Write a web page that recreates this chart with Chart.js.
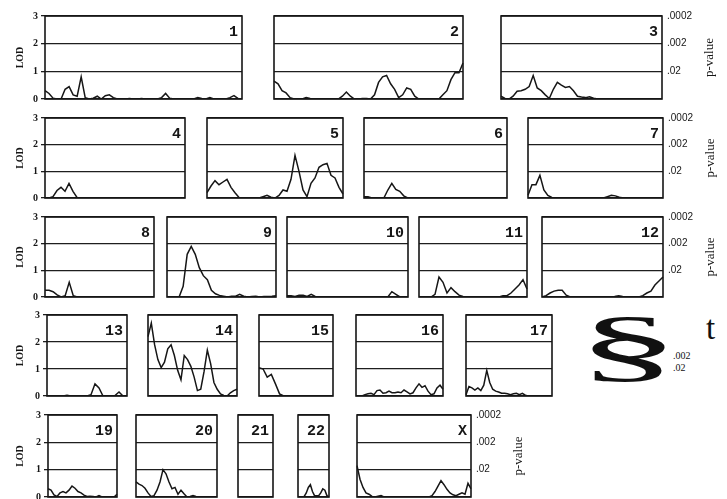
<!DOCTYPE html>
<html>
<head>
<meta charset="utf-8">
<script src="https://cdn.jsdelivr.net/npm/chart.js@4"></script>
<style>
    body { margin: 0; background: #fff; width: 727px; height: 499px; overflow: hidden; position: relative; }
    canvas { position: absolute; }
    .txt { position: absolute; font-family: "Liberation Serif", serif; color: #111; white-space: nowrap; }
</style>
</head>
<body>
<div class="txt" id="sect" style="left:576px;top:305px;font-size:80px;line-height:80px;transform:scaleX(2.6);transform-origin:0 0;">§</div>
<div class="txt" style="left:673px;top:350px;font-size:10px;">.002</div>
<div class="txt" style="left:673px;top:362px;font-size:10px;">.02</div>
<div class="txt" style="left:706px;top:311px;font-size:33px;line-height:34px;">t</div>
<script>
// LOD scores along each chromosome, evenly spaced samples
const lod1 = [0.3, 0.2, 0.03, 0, 0, 0.35, 0.45, 0.15, 0.1, 0.8, 0.05, 0, 0.03, 0.1, 0, 0.12, 0.15, 0.05, 0,
    0, 0, 0.02, 0, 0, 0.02, 0, 0, 0, 0, 0.05, 0.2, 0.03, 0, 0, 0, 0, 0, 0, 0.05, 0.02, 0, 0.05, 0, 0, 0, 0, 0.05, 0.12, 0.02, 0];
const lod2 = [0.65, 0.55, 0.3, 0.22, 0.05, 0, 0, 0, 0.05, 0.02, 0, 0, 0, 0, 0, 0, 0,
    0.1, 0.25, 0.1, 0, 0, 0.02, 0.02, 0, 0.15, 0.6, 0.8, 0.85, 0.55, 0.35, 0.05,
    0.15, 0.4, 0.35, 0.1, 0, 0, 0, 0, 0, 0, 0.15, 0.3, 0.7, 0.95, 0.95, 1.3];
const lod3 = [0.1, 0.02, 0, 0.1, 0.28, 0.3, 0.35, 0.45, 0.85, 0.4, 0.3, 0.15, 0.02, 0.35, 0.6, 0.5, 0.42, 0.45, 0.3, 0.1,
    0.07, 0.05, 0.08, 0.03, 0, 0, 0, 0, 0, 0, 0, 0, 0, 0, 0, 0, 0, 0, 0, 0, 0];
const lod4 = [0, 0, 0.05, 0.28, 0.4, 0.25, 0.55, 0.25, 0.02, 0, 0, 0, 0, 0, 0, 0, 0, 0,
    0, 0, 0, 0, 0, 0, 0, 0, 0, 0, 0, 0, 0, 0, 0, 0, 0, 0];
const lod5 = [0.2, 0.45, 0.65, 0.5, 0.6, 0.7, 0.4, 0.2, 0.02, 0, 0, 0, 0, 0, 0.05, 0.1, 0.03, 0,
    0.1, 0.3, 0.25, 0.7, 1.6, 1.0, 0.3, 0.05, 0.55, 0.75, 1.15, 1.25, 1.3, 0.85, 0.75, 0.4, 0.15];
const lod6 = [0.05, 0.05, 0, 0, 0, 0, 0.3, 0.55, 0.32, 0.25, 0.08, 0, 0, 0, 0, 0, 0, 0, 0,
    0, 0, 0, 0, 0, 0, 0, 0, 0, 0, 0, 0, 0, 0, 0, 0, 0, 0];
const lod7 = [0.1, 0.5, 0.5, 0.85, 0.3, 0.1, 0.02, 0, 0, 0, 0, 0, 0, 0, 0, 0, 0, 0, 0, 0,
    0.05, 0.1, 0.08, 0.03, 0, 0, 0, 0, 0, 0, 0, 0, 0, 0, 0];
const lod8 = [0.25, 0.25, 0.2, 0.08, 0, 0.05, 0.55, 0.05, 0, 0, 0, 0, 0, 0,
    0, 0, 0, 0, 0, 0, 0, 0, 0, 0, 0, 0, 0, 0];
const lod9 = [0, 0, 0, 0, 0.4, 1.6, 1.9, 1.6, 1.1, 0.8, 0.65, 0.25, 0.12, 0.06,
    0.03, 0, 0.03, 0.03, 0.1, 0.03, 0, 0.02, 0.03, 0, 0.02, 0.02, 0.03, 0.05];
const lod10 = [0.05, 0.05, 0.02, 0.07, 0.07, 0.02, 0.1, 0.02, 0, 0, 0, 0, 0, 0, 0, 0,
    0, 0, 0, 0, 0, 0, 0, 0, 0, 0, 0.2, 0.1, 0, 0, 0];
const lod11 = [0, 0, 0, 0, 0.1, 0.75, 0.55, 0.15, 0.35, 0.2, 0.07, 0.02, 0, 0,
    0, 0, 0, 0, 0, 0, 0, 0.05, 0.05, 0.15, 0.3, 0.45, 0.65, 0.3];
const lod12 = [0, 0.05, 0.15, 0.22, 0.25, 0.25, 0.07, 0, 0, 0, 0, 0, 0, 0, 0, 0,
    0, 0, 0.02, 0.05, 0.02, 0, 0, 0, 0, 0.05, 0.15, 0.22, 0.45, 0.6, 0.75];
const lod13 = [0, 0, 0, 0, 0, 0.03, 0, 0, 0, 0, 0, 0.05, 0.45, 0.3, 0, 0, 0, 0.02, 0.15, 0, 0];
const lod14 = [2.2, 2.7, 1.9, 1.35, 1.05, 1.25, 1.75, 1.9, 1.5, 0.95, 0.6, 1.5, 1.35, 1.1,
    0.7, 0.2, 0.25, 0.9, 1.7, 1.2, 0.5, 0.25, 0.08, 0.02, 0, 0.12, 0.2, 0.25];
const lod15 = [1.05, 1.0, 0.7, 0.8, 0.45, 0.08, 0, 0, 0, 0, 0, 0, 0, 0, 0, 0, 0, 0, 0];
const lod16 = [0, 0, 0, 0.05, 0.08, 0.1, 0.05, 0.2, 0.22, 0.1, 0.12, 0.18, 0.12, 0.12, 0.15,
    0.12, 0.22, 0.15, 0.08, 0.12, 0.3, 0.45, 0.32, 0.38, 0.18, 0.05, 0.08, 0.3, 0.4, 0.25];
const lod17 = [0.05, 0.35, 0.3, 0.22, 0.3, 0.2, 0.4, 0.95, 0.5, 0.25, 0.18, 0.15, 0.1, 0.1, 0.08,
    0.05, 0.08, 0.1, 0.05, 0.1, 0.03, 0, 0, 0, 0, 0, 0, 0, 0, 0];
const lod19 = [0.3, 0.25, 0.08, 0.02, 0.15, 0.2, 0.15, 0.25, 0.4, 0.32, 0.2, 0.15,
    0.07, 0.02, 0.03, 0.02, 0, 0.05, 0, 0, 0, 0, 0, 0.1];
const lod20 = [0.55, 0.47, 0.42, 0.32, 0.15, 0.02, 0.05, 0.25, 0.55, 1.0, 0.85, 0.55, 0.3, 0.35,
    0.1, 0.25, 0.12, 0, 0.02, 0.05, 0.02, 0, 0, 0, 0, 0, 0, 0];
const lod21 = [0, 0, 0, 0, 0, 0, 0, 0, 0, 0];
const lod22 = [0, 0, 0, 0.02, 0.15, 0.35, 0.45, 0.2, 0.05, 0.05, 0.05, 0.15, 0.3, 0.25, 0.05, 0];
const lodX = [1.15, 0.65, 0.35, 0.15, 0.1, 0.02, 0, 0.03, 0.05, 0, 0, 0, 0, 0, 0, 0, 0, 0, 0, 0,
    0, 0, 0, 0, 0, 0.05, 0.2, 0.4, 0.6, 0.45, 0.28, 0.15, 0.08, 0.05, 0.1, 0.15, 0.1, 0.5, 0.3];

const lodTicks = [0, 1, 2, 3];
const pLabels = ['', '.02', '.002', '.0002'];   // p-value matching LOD 0..3

const lodByChr = {
    '1': lod1, '2': lod2, '3': lod3, '4': lod4, '5': lod5, '6': lod6, '7': lod7, '8': lod8,
    '9': lod9, '10': lod10, '11': lod11, '12': lod12, '13': lod13, '14': lod14, '15': lod15,
    '16': lod16, '17': lod17, '19': lod19, '20': lod20, '21': lod21, '22': lod22, 'X': lodX
};

// panel boxes on the page: [left, top, right, bottom]
const layout = [
    { chr: '1', box: [45, 16, 242, 99], first: true },
    { chr: '2', box: [274, 16, 463, 99] },
    { chr: '3', box: [501, 16, 662, 99], last: true },
    { chr: '4', box: [45, 118, 185, 198], first: true },
    { chr: '5', box: [207, 118, 343, 198] },
    { chr: '6', box: [364, 118, 507, 198] },
    { chr: '7', box: [528, 118, 663, 198], last: true },
    { chr: '8', box: [45, 217, 154, 297], first: true },
    { chr: '9', box: [167, 217, 276, 297] },
    { chr: '10', box: [287, 217, 408, 297] },
    { chr: '11', box: [419, 217, 527, 297] },
    { chr: '12', box: [542, 217, 663, 297], last: true },
    { chr: '13', box: [47, 315, 127, 396], first: true },
    { chr: '14', box: [148, 315, 237, 396] },
    { chr: '15', box: [259, 315, 333, 396] },
    { chr: '16', box: [356, 315, 443, 396] },
    { chr: '17', box: [466, 315, 552, 396] },
    { chr: '19', box: [48, 415, 117, 497], first: true },
    { chr: '20', box: [136, 415, 217, 497] },
    { chr: '21', box: [238, 415, 273, 497] },
    { chr: '22', box: [298, 415, 329, 497] },
    { chr: 'X', box: [357, 415, 471, 497], last: true, pRight: 560 }
];

const INK = '#161616';

const panelDecor = {
    id: 'panelDecor',
    afterDatasetsDraw(chart, args, opts) {
        const { ctx, chartArea: a } = chart;
        ctx.save();
        ctx.strokeStyle = INK;
        ctx.lineWidth = 1.6;
        ctx.strokeRect(a.left, a.top, a.right - a.left, a.bottom - a.top);
        ctx.fillStyle = INK;
        ctx.font = 'bold 15px "Liberation Mono"';
        ctx.textAlign = 'right';
        ctx.textBaseline = 'alphabetic';
        ctx.fillText(opts.label, a.right - 4, a.top + 20);
        if (opts.pTitle) {
            ctx.translate(a.right + 48, (a.top + a.bottom) / 2);
            ctx.rotate(-Math.PI / 2);
            ctx.textAlign = 'center';
            ctx.textBaseline = 'middle';
            ctx.font = '13px "Liberation Serif"';
            ctx.fillText('p-value', 0, 0);
        }
        ctx.restore();
    }
};

function makePanel(p) {
    const values = lodByChr[p.chr];
    const [left, top, right, bottom] = p.box;
    const padL = p.first ? left : 2;
    const padR = p.last ? (p.pRight || 727) - right : 2;
    const padT = 14, padB = 14;

    const canvas = document.createElement('canvas');
    canvas.width = padL + (right - left) + padR;
    canvas.height = padT + (bottom - top) + padB;
    canvas.style.left = (left - padL) + 'px';
    canvas.style.top = (top - padT) + 'px';
    document.body.appendChild(canvas);

    const scales = {
        x: { type: 'category', display: false, offset: false },
        y: {
            min: 0, max: 3,
            afterBuildTicks: s => { s.ticks = lodTicks.map(v => ({ value: v })); },
            ticks: {
                display: !!p.first, padding: 3, color: INK,
                font: { family: 'Liberation Serif', weight: 'bold', size: 10 }
            },
            grid: { color: '#1e1e1e', lineWidth: 1.3, drawTicks: !!p.first, tickLength: 4 },
            border: { display: false },
            title: {
                display: !!p.first, text: 'LOD', color: INK,
                font: { family: 'Liberation Serif', weight: 'bold', size: 10 },
                padding: { top: 14, bottom: 0 }
            },
            afterFit: s => { s.width = padL; }
        }
    };
    if (p.last) {
        scales.p = {
            position: 'right', min: 0, max: 3,
            afterBuildTicks: s => { s.ticks = lodTicks.map(v => ({ value: v })); },
            ticks: {
                padding: 5, color: INK,
                font: { family: 'Liberation Sans', size: 10 },
                callback: v => pLabels[v]
            },
            grid: { display: false, drawTicks: false },
            border: { display: false },
            afterFit: s => { s.width = padR; }
        };
    }

    new Chart(canvas, {
        type: 'line',
        data: {
            labels: values.map((v, i) => i),
            datasets: [{
                data: values,
                borderColor: INK,
                borderWidth: 1.5,
                pointRadius: 0,
                tension: 0
            }]
        },
        options: {
            responsive: false,
            animation: false,
            events: [],
            layout: { padding: { top: padT, bottom: padB, left: 0, right: p.last ? 0 : padR } },
            scales: scales,
            plugins: {
                legend: { display: false },
                tooltip: { enabled: false },
                panelDecor: { label: p.chr, pTitle: !!p.last }
            }
        },
        plugins: [panelDecor]
    });
}

layout.forEach(makePanel);
</script>
</body>
</html>
